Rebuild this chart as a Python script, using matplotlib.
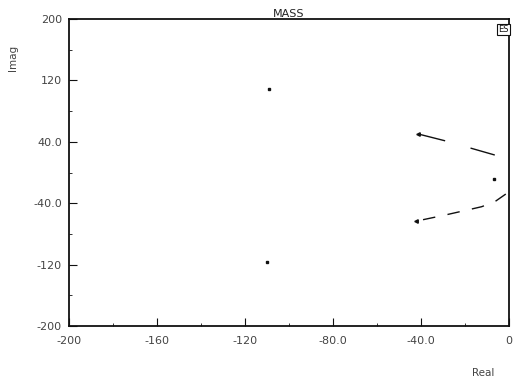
import matplotlib
matplotlib.use("Agg")
import matplotlib.pyplot as plt
import numpy as np

# pole locations (isolated complex pair)
pole_re = [-109, -110]
pole_im = [109, -117]

# upper branch of the locus
up_re = [-41.2, -29.1, -17.0, -6.4]
up_im = [50.2, 41.4, 31.5, 22.8]

# lone point near the real axis
mid_re = [-6.7]
mid_im = [-8.9]

# lower branch of the locus
lo_re = [-1.4, -6.4, -12.4, -17.7, -29.1, -42.0]
lo_im = [-28.0, -38.0, -44.5, -48.0, -55.4, -63.2]

xticks = [-200, -160, -120, -80, -40, 0]
xlabels = ["-200", "-160", "-120", "-80.0", "-40.0", "0"]
yticks = [200, 120, 40, -40, -120, -200]
ylabels = ["200", "120", "40.0", "-40.0", "-120", "-200"]

fig = plt.figure(figsize=(5.14, 3.86), dpi=100)
ax = fig.add_axes([0.134, 0.155, 0.856, 0.796])
ink = "#111111"

ax.plot(pole_re, pole_im, ls="none", marker="s", ms=1.8, color=ink)
ax.plot(up_re, up_im, color=ink, lw=1.0, dashes=(20, 19))
ax.plot(up_re[0], up_im[0], marker="<", ms=2.5, color=ink)
ax.plot(mid_re, mid_im, ls="none", marker="s", ms=1.8, color=ink)
ax.plot(lo_re, lo_im, color=ink, lw=1.0, dashes=(9, 9))
ax.plot(lo_re[-1], lo_im[-1], marker="<", ms=2.5, color=ink)

ax.set_xlim(-200, 0)
ax.set_ylim(-200, 200)
ax.set_xticks(xticks)
ax.set_xticklabels(xlabels)
ax.set_yticks(yticks)
ax.set_yticklabels(ylabels)
ax.set_xticks(np.arange(-200, 1, 20), minor=True)
ax.set_yticks(np.arange(-200, 201, 40), minor=True)
ax.tick_params(axis="both", which="major", direction="in", length=6, width=0.8,
               labelsize=8, colors=ink, labelcolor="#444444", pad=5)
ax.tick_params(axis="both", which="minor", direction="in", length=2.5, width=0.6,
               colors=ink)
ax.tick_params(axis="x", which="major", pad=7)
ax.tick_params(top=False, right=False)
for s in ax.spines.values():
    s.set_linewidth(1.3)
    s.set_color(ink)

ax.set_title("MASS", fontsize=8, color="#222222", pad=1)
fig.text(0.025, 0.85, "Imag", rotation=90, fontsize=7.5, color="#444444",
         ha="center", va="center")
fig.text(0.94, 0.034, "Real", fontsize=7.5, color="#444444",
         ha="center", va="center")
ax.text(0.999, 0.965, "ES", transform=ax.transAxes, fontsize=6, color=ink,
        ha="right", va="center",
        bbox=dict(boxstyle="square,pad=0.15", fc="white", ec=ink, lw=0.8))

fig.savefig("out.png", dpi=100)
